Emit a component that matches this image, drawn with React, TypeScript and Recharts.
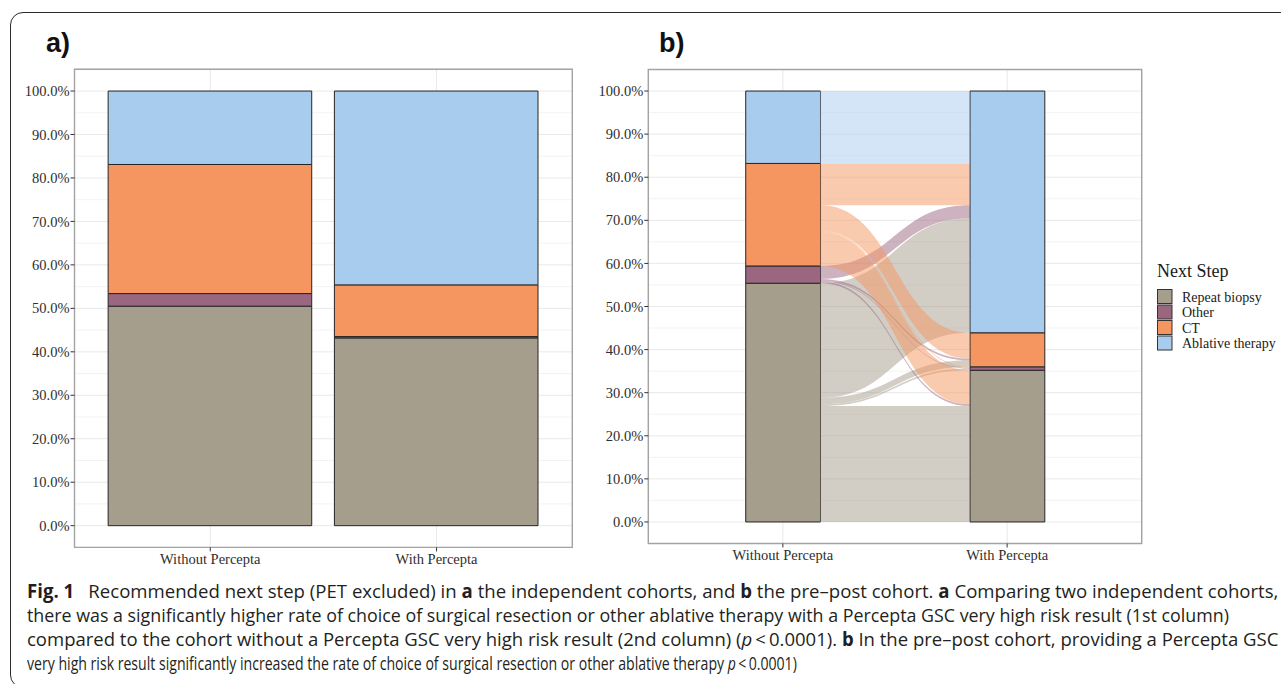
import React, { useLayoutEffect, useRef, useState } from "react";
import {
  BarChart,
  Bar,
  AreaChart,
  Area,
  XAxis,
  YAxis,
  CartesianGrid,
  ReferenceArea,
} from "recharts";

const steps = ["Repeat biopsy", "Other", "CT", "Ablative therapy"];
const stepColors = ["#A69E8D", "#9B6680", "#F5955F", "#A8CCEE"];
const cohorts = ["Without Percepta", "With Percepta"];
const percentTicks = [0, 10, 20, 30, 40, 50, 60, 70, 80, 90, 100];
const minorTicks = [5, 15, 25, 35, 45, 55, 65, 75, 85, 95];

// a) independent cohorts, % per next step
const repeatBiopsyA = [50.5, 43.2];
const otherA = [2.9, 0.3];
const ctA = [29.7, 11.9];
const ablativeA = [16.9, 44.6];

// b) pre-post cohort, flows between steps (% of cohort)
const flowFrom = [
  "Repeat biopsy", "Repeat biopsy", "Repeat biopsy", "Repeat biopsy",
  "Other", "Other", "Other", "Other",
  "CT", "CT", "CT", "CT",
  "Ablative therapy",
];
const flowTo = [
  "Repeat biopsy", "Other", "CT", "Ablative therapy",
  "Repeat biopsy", "Other", "CT", "Ablative therapy",
  "Repeat biopsy", "Other", "CT", "Ablative therapy",
  "Ablative therapy",
];
const flowPct = [26.9, 0.4, 1.5, 26.6, 0.4, 0.2, 0.4, 3.0, 7.9, 0.2, 6.0, 9.7, 16.8];

const serif = "'Liberation Serif', 'Times New Roman', serif";
const keys = ["rb", "other", "ct", "abl"];

const dataA = cohorts.map((c, i) => ({
  x: i + 1,
  name: c,
  rb: repeatBiopsyA[i],
  other: otherA[i],
  ct: ctA[i],
  abl: ablativeA[i],
}));

// stratum totals on each axis of the alluvial plot
const fromIdx = flowFrom.map((s) => steps.indexOf(s));
const toIdx = flowTo.map((s) => steps.indexOf(s));
const leftTotals = steps.map((_, j) =>
  flowPct.reduce((a, v, k) => a + (fromIdx[k] === j ? v : 0), 0)
);
const rightTotals = steps.map((_, j) =>
  flowPct.reduce((a, v, k) => a + (toIdx[k] === j ? v : 0), 0)
);
const dataB = cohorts.map((c, i) => {
  const totals = i === 0 ? leftTotals : rightTotals;
  const row: any = { x: i + 1, name: c };
  keys.forEach((k, j) => (row[k] = totals[j]));
  return row;
});

const cumBase = (t: number[]) => t.map((_, j) => t.slice(0, j).reduce((a, v) => a + v, 0));
const leftCursor = cumBase(leftTotals);
const rightCursor = cumBase(rightTotals);
const order = flowPct.map((_, k) => k);
const leftRange: number[][] = [];
const rightRange: number[][] = [];
[...order]
  .sort((a, b) => fromIdx[a] - fromIdx[b] || toIdx[a] - toIdx[b])
  .forEach((k) => {
    const lo = leftCursor[fromIdx[k]];
    leftRange[k] = [lo, lo + flowPct[k]];
    leftCursor[fromIdx[k]] += flowPct[k];
  });
[...order]
  .sort((a, b) => toIdx[a] - toIdx[b] || fromIdx[a] - fromIdx[b])
  .forEach((k) => {
    const lo = rightCursor[toIdx[k]];
    rightRange[k] = [lo, lo + flowPct[k]];
    rightCursor[toIdx[k]] += flowPct[k];
  });
const flowRows = [
  { x: 1 + 1 / 6, ...Object.fromEntries(order.map((k) => [`f${k}`, leftRange[k]])) },
  { x: 2 - 1 / 6, ...Object.fromEntries(order.map((k) => [`f${k}`, rightRange[k]])) },
];

const fmtPct = (v: number) => `${v.toFixed(1)}%`;
const fmtCohort = (v: number) => cohorts[v - 1] ?? "";

const tickStyle = { fill: "#2e2e2e", fontSize: 14.5, fontFamily: serif };

type Geo = { left: number; w: number; h: number; top: number; right: number; yw: number; xh: number };
const geoA: Geo = { left: 0, w: 590, h: 580, top: 69.3, right: 17.7, yw: 74.5, xh: 32.6 };
const geoB: Geo = { left: 560, w: 600, h: 580, top: 69.5, right: 18.3, yw: 88.3, xh: 36.5 };

function axes(g: Geo, show: boolean) {
  return [
    <XAxis
      key="x"
      type="number"
      dataKey="x"
      domain={[0.4, 2.6]}
      ticks={[1, 2]}
      allowDataOverflow
      interval={0}
      tickFormatter={fmtCohort}
      height={g.xh}
      axisLine={false}
      tickLine={show ? { stroke: "#333" } : false}
      tick={show ? tickStyle : false}
      tickSize={4}
      tickMargin={2}
    />,
    <YAxis
      key="y"
      type="number"
      domain={[-5, 105]}
      ticks={percentTicks}
      allowDataOverflow
      interval={0}
      tickFormatter={fmtPct}
      width={g.yw}
      axisLine={false}
      tickLine={show ? { stroke: "#333" } : false}
      tick={show ? tickStyle : false}
      tickSize={4}
      tickMargin={1}
    />,
    <YAxis
      key="ym"
      yAxisId="minor"
      type="number"
      domain={[-5, 105]}
      ticks={minorTicks}
      allowDataOverflow
      hide
    />,
  ];
}

function StackedPanel({ g, data, barSize }: { g: Geo; data: any[]; barSize: number }) {
  return (
    <div style={{ position: "absolute", left: g.left, top: 0 }}>
      <BarChart
        width={g.w}
        height={g.h}
        data={data}
        margin={{ top: g.top, right: g.right, bottom: 0, left: 0 }}
      >
        <CartesianGrid yAxisId="minor" vertical={false} stroke="#F3F3F3" />
        <CartesianGrid stroke="#E9E9E9" />
        {axes(g, true)}
        <ReferenceArea
          x1={0.4}
          x2={2.6}
          y1={-5}
          y2={105}
          fill="none"
          stroke="#A3A3A3"
          strokeWidth={1.4}
          ifOverflow="visible"
        />
        {keys.map((k, j) => (
          <Bar
            key={k}
            dataKey={k}
            name={steps[j]}
            stackId="s"
            fill={stepColors[j]}
            stroke="#262626"
            strokeWidth={1}
            barSize={barSize}
            isAnimationActive={false}
          />
        ))}
      </BarChart>
    </div>
  );
}

function FlowLayer({ g }: { g: Geo }) {
  return (
    <div style={{ position: "absolute", left: g.left, top: 0, pointerEvents: "none" }}>
      <AreaChart
        width={g.w}
        height={g.h}
        data={flowRows}
        margin={{ top: g.top, right: g.right, bottom: 0, left: 0 }}
      >
        {axes(g, false)}
        {order.map((k) => (
          <Area
            key={k}
            type="bumpX"
            dataKey={`f${k}`}
            name={`${flowFrom[k]} → ${flowTo[k]}`}
            fill={stepColors[fromIdx[k]]}
            fillOpacity={0.5}
            stroke="none"
            dot={false}
            activeDot={false}
            isAnimationActive={false}
          />
        ))}
      </AreaChart>
    </div>
  );
}

type Part = [string, string?];
const captionLines: { w: number; parts: Part[] }[] = [
  {
    w: 1251,
    parts: [
      ["Fig. 1", "b"],
      ["\u2002 Recommended next step (PET excluded) in "],
      ["a", "b"],
      [" the independent cohorts, and "],
      ["b", "b"],
      [" the pre\u2013post cohort. "],
      ["a", "b"],
      [" Comparing two independent cohorts,"],
    ],
  },
  {
    w: 1202,
    parts: [
      [
        "there was a significantly higher rate of choice of surgical resection or other ablative therapy with a Percepta GSC very high risk result (1st column)",
      ],
    ],
  },
  {
    w: 1251,
    parts: [
      ["compared to the cohort without a Percepta GSC very high risk result (2nd column) ("],
      ["p", "i"],
      ["\u2009<\u20090.0001). "],
      ["b", "b"],
      [" In the pre\u2013post cohort, providing a Percepta GSC"],
    ],
  },
  {
    w: 770,
    parts: [
      ["very high risk result significantly increased the rate of choice of surgical resection or other ablative therapy "],
      ["p", "i"],
      ["\u2009<\u20090.0001)"],
    ],
  },
];

function CaptionLine({ i, w, parts }: { i: number; w: number; parts: Part[] }) {
  const ref = useRef<HTMLDivElement>(null);
  const [sx, setSx] = useState(0.8);
  useLayoutEffect(() => {
    const measure = () => {
      const width = ref.current ? ref.current.offsetWidth : 0;
      if (width > 0) setSx(w / width);
    };
    measure();
    (document as any).fonts?.ready?.then(measure);
  }, [w]);
  return (
    <div
      ref={ref}
      style={{
        position: "absolute",
        left: 27,
        top: 578.6 + i * 24,
        display: "inline-block",
        whiteSpace: "nowrap",
        transform: `scaleX(${sx})`,
        transformOrigin: "0 0",
        fontFamily: "'Open Sans', 'Noto Sans', sans-serif",
        fontSize: 19,
        lineHeight: "24px",
        color: "#231F20",
      }}
    >
      {parts.map(([t, st], k) => (
        <span
          key={k}
          style={{
            fontWeight: st === "b" ? 700 : 400,
            fontStyle: st === "i" ? "italic" : "normal",
          }}
        >
          {t}
        </span>
      ))}
    </div>
  );
}

function Decorations() {
  return (
    <svg
      width={1281}
      height={575}
      style={{ position: "absolute", left: 0, top: 0, pointerEvents: "none" }}
    >
      <text x={46} y={52} fontFamily="'Liberation Sans', Arial, sans-serif" fontWeight="bold" fontSize={27} fill="#111">
        a)
      </text>
      <text x={659} y={52} fontFamily="'Liberation Sans', Arial, sans-serif" fontWeight="bold" fontSize={27} fill="#111">
        b)
      </text>
      <text x={1157} y={276.5} fontFamily={serif} fontSize={18} fill="#1a1a1a">
        Next Step
      </text>
      {steps.map((s, j) => (
        <g key={s}>
          <rect
            x={1157.5}
            y={289.5 + j * 15.5}
            width={14.5}
            height={14}
            fill={stepColors[j]}
            stroke="#333"
            strokeWidth={1}
          />
          <text x={1182} y={301.5 + j * 15.5} fontFamily={serif} fontSize={14} fill="#1a1a1a">
            {s}
          </text>
        </g>
      ))}
    </svg>
  );
}

export default function App() {
  return (
    <div
      style={{
        position: "fixed",
        left: 0,
        top: 0,
        width: 1281,
        height: 684,
        overflow: "hidden",
        background: "#fff",
      }}
    >
      <div
        style={{
          position: "absolute",
          left: 10,
          top: 12,
          width: 1300,
          height: 676,
          border: "1.3px solid #2b2b2b",
          borderRadius: 13,
          boxSizing: "border-box",
        }}
      />
      <StackedPanel g={geoA} data={dataA} barSize={203.6} />
      <StackedPanel g={geoB} data={dataB} barSize={74.8} />
      <FlowLayer g={geoB} />
      <Decorations />
      {captionLines.map((ln, i) => (
        <CaptionLine key={i} i={i} w={ln.w} parts={ln.parts} />
      ))}
    </div>
  );
}
